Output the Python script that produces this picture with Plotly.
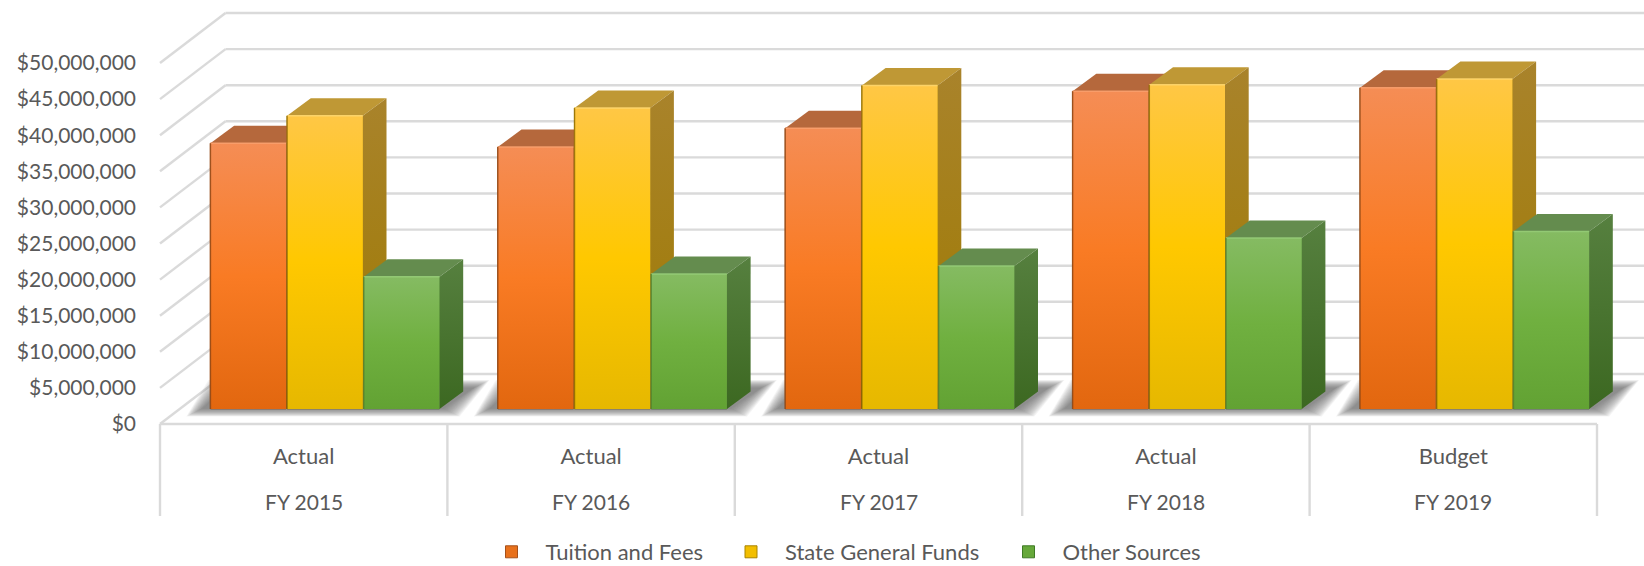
import plotly.graph_objects as go

# ---------- data ----------
fiscal_years = ["FY 2015", "FY 2016", "FY 2017", "FY 2018", "FY 2019"]
scenarios = ["Actual", "Actual", "Actual", "Actual", "Budget"]
tuition_fees = [36.8e6, 36.3e6, 38.9e6, 44.0e6, 44.5e6]
state_funds = [40.6e6, 41.7e6, 44.8e6, 44.9e6, 45.7e6]
other_sources = [18.3e6, 18.7e6, 19.8e6, 23.7e6, 24.6e6]
y_ticks = [i * 5_000_000 for i in range(11)]

series_names = ["Tuition and Fees", "State General Funds", "Other Sources"]
series_values = [tuition_fees, state_funds, other_sources]
front_scales = [
    [[0, "#E2670F"], [0.5, "#F97B24"], [1, "#F58D55"]],
    [[0, "#E6B800"], [0.5, "#FFC800"], [1, "#FFC745"]],
    [[0, "#62A233"], [0.5, "#70B040"], [1, "#85BB62"]],
]
side_scales = [
    [[0, "#8A4A12"], [1, "#B0693A"]],
    [[0, "#9E7A00"], [1, "#A9832B"]],
    [[0, "#3C6821"], [1, "#56803F"]],
]
top_colors = ["#B5683C", "#BF9835", "#648C4E"]
edge_colors = ["rgba(140,70,20,0.75)", "rgba(140,105,0,0.75)", "rgba(80,130,50,0.75)"]
highlight_colors = ["rgba(250,160,110,0.9)", "rgba(255,215,110,0.9)", "rgba(150,205,120,0.9)"]
legend_colors = ["#E8711C", "#F2BE00", "#66A83A"]
legend_lines = ["#A5501A", "#A88400", "#3F7A25"]

# ---------- layout metrics ----------
W, H = 1644, 566
ML, MB = 150, 140
PX_CAT = 287.4          # pixels per category
PX_M = 7.22             # pixels per million dollars
X0_PX, Y0_PX = 160, 424

plot_h = H - MB
x_range = [(ML - X0_PX) / PX_CAT, (W - X0_PX) / PX_CAT]
y_range = [-(plot_h - Y0_PX) / PX_M * 1e6, Y0_PX / PX_M * 1e6]

WALL_DX = 65.5 / PX_CAT
WALL_DY = 50 / PX_M * 1e6
BAR_W = 75.7 / PX_CAT
BAR_GAP = 76.7 / PX_CAT
BAR_START = 50.4 / PX_CAT
BAR_BASE = 15 / PX_M * 1e6
DEPTH_DX = 23.7 / PX_CAT
DEPTH_DY = 17.5 / PX_M * 1e6

fig = go.Figure()

# front bars (value carriers + legend entries)
legend_ids = ["legend", "legend2", "legend3"]
for s, name in enumerate(series_names):
    fig.add_trace(go.Bar(
        x=[i + BAR_START + s * BAR_GAP + BAR_W / 2 for i in range(5)],
        y=series_values[s], base=BAR_BASE, width=BAR_W, name=name,
        marker=dict(color=legend_colors[s], line=dict(color=legend_lines[s], width=1)),
        legend=legend_ids[s], showlegend=True, hoverinfo="skip",
    ))


def poly(xs, ys, **kw):
    fig.add_trace(go.Scatter(
        x=list(xs) + [xs[0]], y=list(ys) + [ys[0]], mode="lines", fill="toself",
        showlegend=False, hoverinfo="skip", **kw))


def edge(xs, ys, color, width):
    fig.add_trace(go.Scatter(x=xs, y=ys, mode="lines", showlegend=False, hoverinfo="skip",
                             line=dict(color=color, width=width)))


# floor shadows, layered to fake a blur
for i in range(5):
    left = i + BAR_START
    right = left + 2 * BAR_GAP + BAR_W
    for grow in range(16, -1, -1):
        gx = grow / PX_CAT
        gy = grow * 0.5 / PX_M * 1e6
        low = BAR_BASE + 0.5 / PX_M * 1e6 - gy
        high = BAR_BASE + 21 / PX_M * 1e6 + gy
        xs = [left - 8 / PX_CAT - gx, right + 4 / PX_CAT + gx,
              right + 34 / PX_CAT + gx, left + 14 / PX_CAT - gx]
        poly(xs, [low, low, high, high], line=dict(width=0),
             fillcolor="rgba(105,105,105,0.075)")

# extruded bars, painted back-to-front
for i in range(5):
    for s in range(3):
        v = series_values[s][i]
        x1 = i + BAR_START + s * BAR_GAP
        x2 = x1 + BAR_W
        y1 = BAR_BASE
        y2 = BAR_BASE + v
        poly([x1, x2, x2 + DEPTH_DX, x1 + DEPTH_DX],
             [y2, y2, y2 + DEPTH_DY, y2 + DEPTH_DY],
             line=dict(width=0), fillcolor=top_colors[s])
        poly([x2, x2 + DEPTH_DX, x2 + DEPTH_DX, x2],
             [y1, y1 + DEPTH_DY, y2 + DEPTH_DY, y2],
             line=dict(width=0),
             fillgradient=dict(type="vertical", colorscale=side_scales[s]))
        poly([x1, x2, x2, x1], [y1, y1, y2, y2],
             line=dict(width=0),
             fillgradient=dict(type="vertical", colorscale=front_scales[s]))
        edge([x1, x2], [y2, y2], highlight_colors[s], 1.5)
        edge([x1, x1], [y1, y2], edge_colors[s], 1.5)

# ---------- grid, floor, dividers ----------
GRID = "#DADADA"
LW = 2.4
shapes = []
for t in y_ticks:
    shapes.append(dict(type="line", xref="x", yref="y", layer="below",
                       x0=0, y0=t, x1=WALL_DX, y1=t + WALL_DY,
                       line=dict(color=GRID, width=LW)))
    shapes.append(dict(type="line", xref="x", yref="y", layer="below",
                       x0=WALL_DX, y0=t + WALL_DY, x1=x_range[1], y1=t + WALL_DY,
                       line=dict(color=GRID, width=LW)))
shapes.append(dict(type="line", xref="x", yref="y", layer="below",
                   x0=0, y0=0, x1=5, y1=0, line=dict(color=GRID, width=LW)))
for i in range(6):
    shapes.append(dict(type="line", xref="x", yref="paper", layer="below",
                       x0=i, x1=i, y0=(plot_h - 424) / plot_h, y1=(plot_h - 516) / plot_h,
                       line=dict(color=GRID, width=LW)))

FAMILY = "Lato, Carlito, sans-serif"
Y_FONT = dict(family=FAMILY, size=21, color="#595959")
X_FONT = dict(family=FAMILY, size=22, color="#595959")
FY_FONT = dict(family=FAMILY, size=21, color="#595959")
LEG_FONT = dict(family=FAMILY, size=22, color="#595959")
annotations = [dict(x=i + 0.5, y=(plot_h - 501) / plot_h, xref="x", yref="paper",
                    text=fy, showarrow=False, font=FY_FONT, yanchor="middle")
               for i, fy in enumerate(fiscal_years)]


def legend_box(px):
    return dict(x=(px - ML) / (W - ML), y=(plot_h - 552) / plot_h, xanchor="left",
                yanchor="middle", orientation="h", bgcolor="rgba(0,0,0,0)",
                font=LEG_FONT, itemwidth=58, itemclick=False, itemdoubleclick=False)


fig.update_layout(
    width=W, height=H, margin=dict(l=ML, r=0, t=0, b=MB, autoexpand=False),
    paper_bgcolor="white", plot_bgcolor="white", barmode="overlay",
    font=Y_FONT, shapes=shapes, annotations=annotations,
    legend=legend_box(477.5), legend2=legend_box(717), legend3=legend_box(994.5),
    xaxis=dict(range=x_range, showgrid=False, zeroline=False, showline=False,
               tickmode="array", tickvals=[i + 0.5 for i in range(5)], ticktext=scenarios,
               ticks="", ticklabelstandoff=15, tickfont=X_FONT),
    yaxis=dict(range=y_range, showgrid=False, zeroline=False, showline=False,
               tickmode="array", tickvals=y_ticks, tickformat="$,.0f",
               ticks="", ticklabelstandoff=13, tickfont=Y_FONT),
)

fig.write_html("out.html", config=dict(displayModeBar=False),
               post_script="document.body.style.margin='0';")
